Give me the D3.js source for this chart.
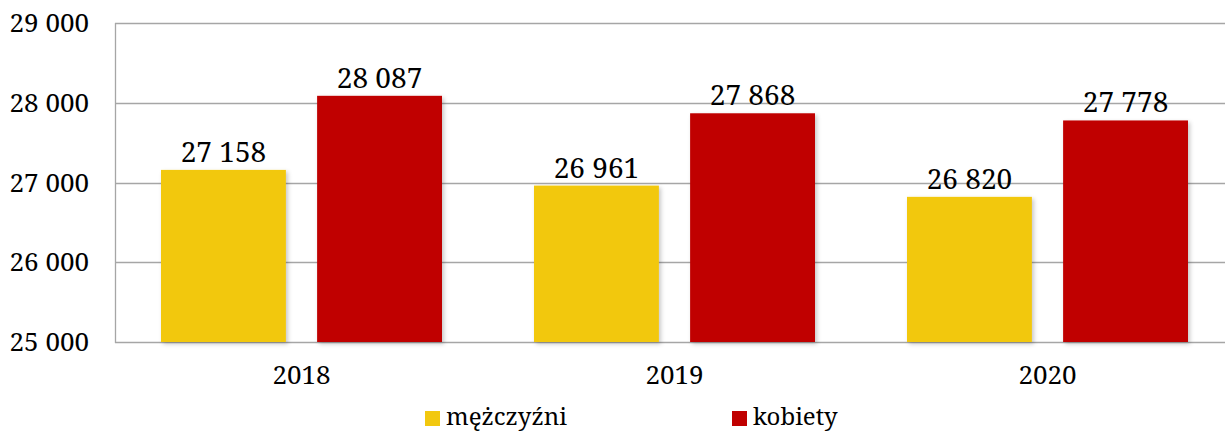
<!DOCTYPE html>
<html>
<head>
<meta charset="utf-8">
<script src="https://cdn.jsdelivr.net/npm/d3@7"></script>
<style>
  html, body { margin: 0; padding: 0; background: #fff; }
  svg { display: block; }
</style>
</head>
<body>
<svg id="chart" width="1225" height="433"></svg>
<script>
const categories = ["2018", "2019", "2020"];
const seriesNames = ["mężczyźni", "kobiety"];
const menValues = [27158, 26961, 26820];
const womenValues = [28087, 27868, 27778];
const yTicks = [25000, 26000, 27000, 28000, 29000];
const colors = ["#F2C80F", "#C00000"];
const FONT = "Noto Serif";

const svg = d3.select("#chart");
const fmt = v => d3.format(",")(v).replace(/,/g, " ");

const y = d3.scaleLinear().domain([25000, 29000]).range([342, 23]);
const x0 = d3.scaleBand().domain(categories).range([115, 1234]).paddingInner(0).paddingOuter(0);
const x1 = d3.scaleBand().domain(seriesNames).range([46, x0.bandwidth() - 46]).paddingInner(0.2).paddingOuter(0);

const defs = svg.append("defs");
const f = defs.append("filter").attr("id", "shadow").attr("x", "-10%").attr("y", "-10%").attr("width", "130%").attr("height", "130%");
f.append("feDropShadow").attr("dx", 2).attr("dy", 2).attr("stdDeviation", 2).attr("flood-color", "#000").attr("flood-opacity", 0.22);

// gridlines
svg.append("g").selectAll("line").data(yTicks).enter().append("line")
  .attr("x1", 115).attr("x2", 1234)
  .attr("y1", d => Math.round(y(d)) + 0.5).attr("y2", d => Math.round(y(d)) + 0.5)
  .attr("stroke", "#a6a6a6").attr("stroke-width", 1.3);

// left axis line
svg.append("line").attr("x1", 115.5).attr("x2", 115.5).attr("y1", y(29000)).attr("y2", y(25000) + 1)
  .attr("stroke", "#a6a6a6").attr("stroke-width", 1.3);

// y tick labels
svg.append("g").selectAll("text").data(yTicks).enter().append("text")
  .attr("x", 89).attr("y", d => y(d)).attr("dy", "0.35em")
  .attr("text-anchor", "end").attr("font-family", FONT).attr("font-size", 26).attr("fill", "#000")
  .text(d => fmt(d));

const data = categories.map((c, i) => ({ cat: c, vals: [menValues[i], womenValues[i]] }));

const groups = svg.append("g").selectAll("g").data(data).enter().append("g")
  .attr("transform", d => `translate(${x0(d.cat)},0)`);

groups.selectAll("rect").data(d => d.vals.map((v, j) => ({ name: seriesNames[j], v, j }))).enter().append("rect")
  .attr("x", d => x1(d.name)).attr("width", x1.bandwidth())
  .attr("y", d => y(d.v)).attr("height", d => y(25000) - y(d.v))
  .attr("fill", d => colors[d.j]).attr("filter", "url(#shadow)");

groups.selectAll("text.val").data(d => d.vals.map((v, j) => ({ name: seriesNames[j], v, j }))).enter().append("text")
  .attr("class", "val")
  .attr("x", d => x1(d.name) + x1.bandwidth() / 2).attr("y", d => y(d.v) - 8)
  .attr("text-anchor", "middle").attr("font-family", FONT).attr("font-size", 28).attr("fill", "#000")
  .text(d => fmt(d.v));

// category labels
svg.append("g").selectAll("text").data(categories).enter().append("text")
  .attr("x", d => x0(d) + x0.bandwidth() / 2).attr("y", 384)
  .attr("text-anchor", "middle").attr("font-family", FONT).attr("font-size", 26).attr("fill", "#000")
  .text(d => d);

// legend
const legendX = [425, 732];
const lg = svg.append("g").selectAll("g").data(seriesNames).enter().append("g")
  .attr("transform", (d, i) => `translate(${legendX[i]},411)`);
lg.append("rect").attr("width", 15).attr("height", 15).attr("fill", (d, i) => colors[i]);
lg.append("text").attr("x", 21).attr("y", 14).attr("font-family", FONT).attr("font-size", 24).attr("fill", "#000").text(d => d);
</script>
</body>
</html>
